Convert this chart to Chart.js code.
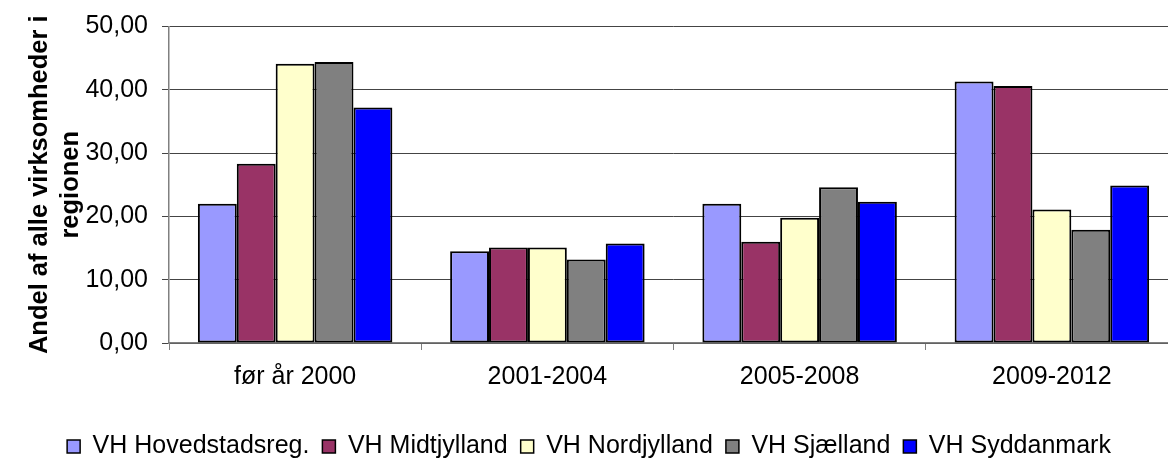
<!DOCTYPE html>
<html>
<head>
<meta charset="utf-8">
<script src="https://cdn.jsdelivr.net/npm/chart.js@4.4.1/dist/chart.umd.min.js"></script>
<style>
  html, body { margin: 0; padding: 0; background: #fff; overflow: hidden; }
  #wrap { width: 1200px; height: 480px; }
</style>
</head>
<body>
<div id="wrap"><canvas id="chart" width="1200" height="480"></canvas></div>
<script>
const periods = ['før år 2000', '2001-2004', '2005-2008', '2009-2012'];
const regions = ['VH Hovedstadsreg.', 'VH Midtjylland', 'VH Nordjylland', 'VH Sjælland', 'VH Syddanmark'];
const regionColors = ['#9999FF', '#993366', '#FFFFCC', '#808080', '#0000FF'];

const hovedstad = [22.0, 14.5, 22.0, 41.3];
const midtjylland = [28.3, 15.1, 16.0, 40.6];
const nordjylland = [44.1, 15.1, 19.8, 21.1];
const sjaelland = [44.4, 13.2, 24.6, 17.9];
const syddanmark = [37.2, 15.7, 22.3, 24.9];

const yTicks = [0, 10, 20, 30, 40, 50];
const yTitle = ['Andel af alle virksomheder i', 'regionen'];

Chart.defaults.font.family = 'Arial, "Liberation Sans", sans-serif';
Chart.defaults.color = '#000';

const series = [hovedstad, midtjylland, nordjylland, sjaelland, syddanmark];

new Chart(document.getElementById('chart'), {
  type: 'bar',
  data: {
    labels: periods,
    datasets: series.map((vals, i) => ({
      label: regions[i],
      data: vals,
      backgroundColor: regionColors[i],
      borderColor: '#000',
      borderWidth: 2,
      borderSkipped: false,
      categoryPercentage: 0.771,
      barPercentage: 1
    }))
  },
  options: {
    responsive: false,
    animation: false,
    layout: { padding: { top: 24, right: 22, left: 0, bottom: 11 } },
    plugins: {
      tooltip: { enabled: false },
      legend: {
        position: 'bottom',
        labels: {
          font: { size: 25 },
          color: '#000',
          boxWidth: 13,
          boxHeight: 13,
          padding: 13,
          generateLabels: chart => chart.data.datasets.map((ds, i) => ({
            text: ds.label,
            fillStyle: ds.backgroundColor,
            strokeStyle: '#000',
            lineWidth: 1.5,
            datasetIndex: i
          }))
        }
      }
    },
    scales: {
      x: {
        grid: { drawOnChartArea: false, drawTicks: true, tickLength: 7, color: '#808080', offset: true },
        border: { color: '#808080', width: 1.5 },
        ticks: { font: { size: 25 }, padding: 12, maxRotation: 0 },
        afterFit: scale => { scale.height = 78; }
      },
      y: {
        min: 0,
        max: 50,
        afterBuildTicks: scale => { scale.ticks = yTicks.map(v => ({ value: v })); },
        ticks: { font: { size: 25, lineHeight: 1 }, padding: 14, callback: v => v.toFixed(2).replace('.', ',') },
        grid: { color: '#444', tickLength: 7 },
        border: { color: '#808080', width: 1.5 },
        title: { display: true, text: yTitle, font: { size: 25.5, weight: 'bold' }, padding: { top: 25, bottom: 0 }, lineHeight: 0.76 },
        afterFit: scale => { scale.width = 169; }
      }
    }
  }
});
</script>
</body>
</html>
